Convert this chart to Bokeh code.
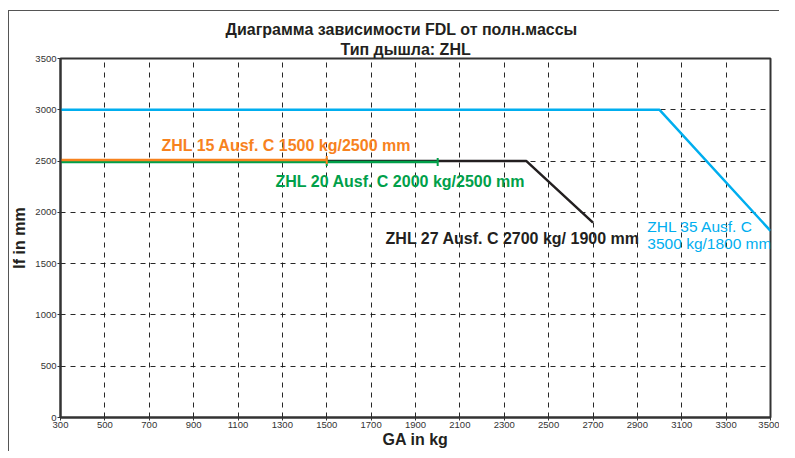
from bokeh.plotting import figure
from bokeh.models import Title, FixedTicker, Label
from bokeh.embed import file_html
from bokeh.resources import INLINE

# data
zhl35_x = [300, 3000, 3500]
zhl35_y = [3000, 3000, 1820]
zhl27_x = [300, 2400, 2700]
zhl27_y = [2500, 2500, 1900]
zhl20_x = [300, 2000]
zhl20_y = [2490, 2490]
zhl20_marks_x = [1500, 2000]
zhl15_x = [300, 1500]
zhl15_y = [2510, 2510]
zhl15_marks_x = [1500]
x_ticks = list(range(300, 3501, 200))
y_ticks = list(range(0, 3501, 500))

title1 = "Диаграмма зависимости FDL от полн.массы"
title2 = "Тип дышла: ZHL"
label15 = "ZHL 15 Ausf. C 1500 kg/2500 mm"
label20 = "ZHL 20 Ausf. C 2000 kg/2500 mm"
label27 = "ZHL 27 Ausf. C 2700 kg/ 1900 mm"
label35a = "ZHL 35 Ausf. C"
label35b = "3500 kg/1800 mm"

ORANGE = "#F7821E"
GREEN = "#00A04A"
BLUE = "#00AEEF"
BLACK = "#231F20"
FONT = "Liberation Sans"

p = figure(width=779, height=451, output_backend="svg", toolbar_location=None,
           x_range=(300, 3500), y_range=(0, 3500),
           min_border_left=60, min_border_right=9, min_border_top=58, min_border_bottom=34)
p.border_fill_color = None
p.styles = {"background": "linear-gradient(#555555, #555555) 8px 10px / 1px 100% no-repeat, "
                          "linear-gradient(#555555, #555555) 8px 10px / 100% 1px no-repeat, white"}

p.add_layout(Title(text=title2, text_font=FONT, text_font_size="16px", text_font_style="bold",
                   align="left", text_color=BLACK, offset=280, standoff=2), "above")
p.add_layout(Title(text=title1, text_font=FONT, text_font_size="16px", text_font_style="bold",
                   align="left", text_color=BLACK, offset=165, standoff=0), "above")

p.background_fill_color = "white"
p.outline_line_color = "#333333"
p.outline_line_width = 2

for ax in (p.xaxis[0], p.yaxis[0]):
    ax.major_label_text_font = FONT
    ax.major_label_text_font_size = "9.5px"
    ax.major_label_text_color = "#333333"
    ax.axis_label_text_font = FONT
    ax.axis_label_text_font_size = "16px"
    ax.axis_label_text_font_style = "bold"
    ax.axis_label_text_color = BLACK
    ax.minor_tick_line_color = None
    ax.axis_line_color = "#333333"
    ax.axis_line_width = 2
    ax.major_tick_line_color = "#333333"
    ax.major_tick_in = 0
    ax.major_tick_out = 3

p.xaxis.ticker = FixedTicker(ticks=x_ticks)
p.yaxis.ticker = FixedTicker(ticks=y_ticks)
p.xaxis.axis_label = "GA in kg"
p.yaxis.axis_label = "lf in mm"
p.xaxis.major_label_standoff = 1
p.yaxis.major_label_standoff = 1
p.xaxis.axis_label_standoff = 0
p.yaxis.axis_label_standoff = 4

p.grid.grid_line_color = "#111111"
p.grid.grid_line_dash = "5 5"
p.grid.grid_line_width = 1
p.grid.grid_line_alpha = 0.9

p.line(zhl35_x, zhl35_y, line_color=BLUE, line_width=2.5)
p.line(zhl27_x, zhl27_y, line_color=BLACK, line_width=2.5)
p.line(zhl20_x, zhl20_y, line_color=GREEN, line_width=2.5)
p.scatter(zhl20_marks_x, [zhl20_y[0]] * len(zhl20_marks_x), marker="dash", angle=1.5708,
          size=8, line_color=GREEN, line_width=2)
p.line(zhl15_x, zhl15_y, line_color=ORANGE, line_width=2.5)
p.scatter(zhl15_marks_x, [zhl15_y[0]] * len(zhl15_marks_x), marker="dash", angle=1.5708,
          size=8, line_color=ORANGE, line_width=2)

def lab(x, y, t, c, bold=True):
    p.add_layout(Label(x=x, y=y, text=t, text_color=c, text_font=FONT,
                       text_font_size="16px" if bold else "15.5px",
                       text_font_style="bold" if bold else "normal", text_baseline="middle",
                       text_align="left"))

lab(755, 2651, label15, ORANGE)
lab(1269, 2300, label20, GREEN)
lab(1765, 1745, label27, BLACK)
lab(2945, 1862, label35a, BLUE, bold=False)
lab(2945, 1696, label35b, BLUE, bold=False)

open("out.html", "w").write(file_html(p, INLINE))
